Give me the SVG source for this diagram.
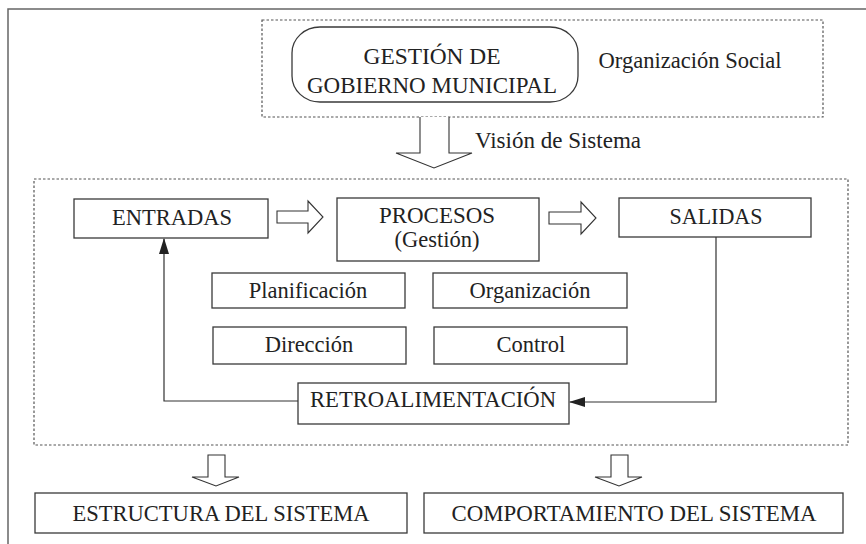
<svg xmlns="http://www.w3.org/2000/svg" width="866" height="544" viewBox="0 0 866 544">
<defs>
<style>
.t{font-size:22.5px;fill:#222;text-anchor:middle}
.box{fill:#fff;stroke:#3a3a3a;stroke-width:1.3}
.dot{fill:none;stroke:#555;stroke-width:1.2;stroke-dasharray:2.5 2}
.ln{fill:none;stroke:#333;stroke-width:1.2}
.hol{fill:#fff;stroke:#333;stroke-width:1.1}
</style>
<marker id="ah" viewBox="0 0 16 10" refX="15" refY="5" markerWidth="16" markerHeight="10" markerUnits="userSpaceOnUse" orient="auto">
<path d="M0,0 L16,5 L0,10 Z" fill="#222"/>
</marker>
</defs>
<rect width="866" height="544" fill="#fff"/>
<path d="M8,544 V9 H866" fill="none" stroke="#666" stroke-width="1.5"/>

<g font-family="'Liberation Serif', serif">
<g id="organizacion-social">
<rect class="dot" x="262" y="20" width="561" height="97"/>
<text class="t" font-family="'Liberation Serif', serif" x="690" y="68" textLength="183" lengthAdjust="spacingAndGlyphs">Organización Social</text>
</g>
<g id="gestion">
<rect class="box" x="292" y="27" width="286" height="75" rx="28" ry="26"/>
<text class="t" font-family="'Liberation Serif', serif" x="432" y="64" font-size="23" textLength="137" lengthAdjust="spacingAndGlyphs">GESTIÓN DE</text>
<text class="t" font-family="'Liberation Serif', serif" x="432" y="93" font-size="23" textLength="250" lengthAdjust="spacingAndGlyphs">GOBIERNO MUNICIPAL</text>
</g>
<g id="sistema">
<rect class="dot" x="34" y="179" width="814" height="266"/>
</g>
<g id="entradas">
<rect class="box" x="74" y="199" width="194" height="39"/>
<text class="t" font-family="'Liberation Serif', serif" x="172" y="225" textLength="120" lengthAdjust="spacingAndGlyphs">ENTRADAS</text>
</g>
<g id="procesos">
<rect class="box" x="337" y="198" width="202" height="63"/>
<text class="t" font-family="'Liberation Serif', serif" x="437" y="223" textLength="116" lengthAdjust="spacingAndGlyphs">PROCESOS</text>
<text class="t" font-family="'Liberation Serif', serif" x="437" y="247">(Gestión)</text>
</g>
<g id="salidas">
<rect class="box" x="619" y="198" width="192" height="39"/>
<text class="t" font-family="'Liberation Serif', serif" x="716" y="224" textLength="93" lengthAdjust="spacingAndGlyphs">SALIDAS</text>
</g>
<g id="planificacion">
<rect class="box" x="212" y="273" width="193" height="35"/>
<text class="t" font-family="'Liberation Serif', serif" x="308" y="298">Planificación</text>
</g>
<g id="organizacion">
<rect class="box" x="433" y="273" width="194" height="35"/>
<text class="t" font-family="'Liberation Serif', serif" x="530" y="298">Organización</text>
</g>
<g id="direccion">
<rect class="box" x="213" y="327" width="193" height="37"/>
<text class="t" font-family="'Liberation Serif', serif" x="309" y="352">Dirección</text>
</g>
<g id="control">
<rect class="box" x="434" y="327" width="193" height="37"/>
<text class="t" font-family="'Liberation Serif', serif" x="531" y="352">Control</text>
</g>
<g id="retroalimentacion">
<rect class="box" x="298" y="383" width="271" height="41"/>
<text class="t" font-family="'Liberation Serif', serif" x="433" y="407" textLength="246" lengthAdjust="spacingAndGlyphs">RETROALIMENTACIÓN</text>
</g>
<g id="estructura">
<rect class="box" x="35" y="493" width="372" height="40"/>
<text class="t" font-family="'Liberation Serif', serif" x="221" y="521" textLength="297" lengthAdjust="spacingAndGlyphs">ESTRUCTURA DEL SISTEMA</text>
</g>
<g id="comportamiento">
<rect class="box" x="424" y="493" width="419" height="40"/>
<text class="t" font-family="'Liberation Serif', serif" x="634" y="521" textLength="365" lengthAdjust="spacingAndGlyphs">COMPORTAMIENTO DEL SISTEMA</text>
</g>

<g id="connectors">
<path class="hol" d="M420,117 V153 H396 L434,168 L472,153 H449 V117"/>
<text class="t" font-family="'Liberation Serif', serif" x="558" y="148" textLength="166" lengthAdjust="spacingAndGlyphs">Visión de Sistema</text>
<path class="hol" d="M277,211 H308 V201 L323,217 L308,233 V223 H277 Z"/>
<path class="hol" d="M549,212 H581 V202 L596,218 L581,234 V224 H549 Z"/>
<path class="ln" d="M298,401 H164 V239" marker-end="url(#ah)"/>
<path class="ln" d="M716,237 V402 H570" stroke="#555" marker-end="url(#ah)"/>
<path class="hol" d="M208,455 V477 H192 L216,486 L239,477 H225 V455 Z"/>
<path class="hol" d="M611,455 V477 H595 L619,486 L642,477 H628 V455 Z"/>
</g>
</g>
</svg>
